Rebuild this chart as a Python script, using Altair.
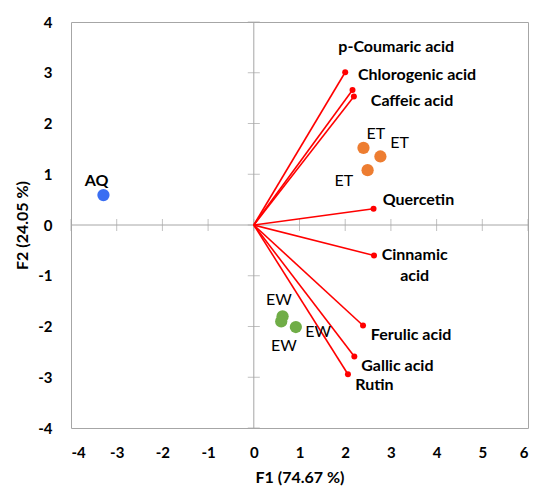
import altair as alt
import pandas as pd

# Variables (loading vectors)
var_names = ["p-Coumaric acid", "Chlorogenic acid", "Caffeic acid", "Quercetin",
             "Cinnamic acid", "Ferulic acid", "Gallic acid", "Rutin"]
var_f1 = [2.00, 2.16, 2.19, 2.62, 2.63, 2.39, 2.20, 2.06]
var_f2 = [3.01, 2.66, 2.53, 0.32, -0.60, -1.98, -2.59, -2.94]
var_text = ["p-Coumaric acid", "Chlorogenic acid", "Caffeic acid", "Quercetin",
            "Cinnamic\nacid", "Ferulic acid", "Gallic acid", "Rutin"]
var_label_f1 = [1.85, 2.28, 2.56, 2.82, 3.52, 2.56, 2.35, 2.22]
var_label_f2 = [3.51, 2.96, 2.44, 0.49, -0.59, -2.17, -2.78, -3.15]

# Observations
obs_names = ["ET", "ET", "ET", "EW", "EW", "EW", "AQ"]
obs_f1 = [2.40, 2.77, 2.49, 0.63, 0.60, 0.92, -3.29]
obs_f2 = [1.52, 1.35, 1.08, -1.80, -1.90, -2.01, 0.59]
obs_label_f1 = [2.67, 3.19, 1.97, 0.55, 1.41, 0.66, -3.44]
obs_label_f2 = [1.79, 1.62, 0.87, -1.48, -2.11, -2.38, 0.87]

group_names = ["ET", "EW", "AQ"]
group_colors = ["#ED7D31", "#70AD47", "#3A6EF2"]

x_ticks = [-4, -3, -2, -1, 0, 1, 2, 3, 4, 5, 6]
y_ticks = [-4, -3, -2, -1, 0, 1, 2, 3, 4]

FONT = "Lato"
GREY = "#A6A6A6"

vars_df = pd.DataFrame({"name": var_names, "f1": var_f1, "f2": var_f2,
                        "text": var_text, "lx": var_label_f1, "ly": var_label_f2})
obs_df = pd.DataFrame({"name": obs_names, "f1": obs_f1, "f2": obs_f2,
                       "lx": obs_label_f1, "ly": obs_label_f2})
xt_df = pd.DataFrame({"v": x_ticks})
yt_df = pd.DataFrame({"v": y_ticks})

xscale = alt.Scale(domain=[-4, 6], nice=False, zero=False)
yscale = alt.Scale(domain=[-4, 4], nice=False, zero=False)

xaxis = alt.Axis(values=x_ticks, grid=False, domain=False, ticks=False, tickSize=0,
                 labelExpr="'' + datum.value",
                 labelFont=FONT, labelFontWeight="bold", labelFontSize=15, labelColor="#000000",
                 labelPadding=17, title="F1 (74.67 %)", titleFont=FONT, titleFontSize=16,
                 titleFontWeight="bold", titleColor="#000000", titlePadding=9)
yaxis = alt.Axis(values=y_ticks, grid=False, domain=False, ticks=False, tickSize=0,
                 labelExpr="'' + datum.value",
                 labelFont=FONT, labelFontWeight="bold", labelFontSize=15, labelColor="#000000",
                 labelPadding=19, title="F2 (24.05 %)", titleFont=FONT, titleFontSize=16,
                 titleFontWeight="bold", titleColor="#000000", titlePadding=7)

# zero lines
zero_x = alt.Chart(pd.DataFrame({"v": [0]})).mark_rule(color=GREY, strokeWidth=1).encode(
    x=alt.X("v:Q", scale=xscale, axis=xaxis))
zero_y = alt.Chart(pd.DataFrame({"v": [0]})).mark_rule(color=GREY, strokeWidth=1).encode(
    y=alt.Y("v:Q", scale=yscale, axis=yaxis))

xt = alt.Chart(xt_df).mark_tick(orient="vertical", size=12, thickness=1, color=GREY).transform_calculate(
    z="0").encode(x=alt.X("v:Q", scale=xscale), y=alt.Y("z:Q", scale=yscale))
yt = alt.Chart(yt_df).mark_tick(orient="horizontal", size=12, thickness=1, color=GREY).transform_calculate(
    z="0").encode(y=alt.Y("v:Q", scale=yscale), x=alt.X("z:Q", scale=xscale))

vec_base = alt.Chart(vars_df)
vectors = vec_base.mark_rule(color="#FF0000", strokeWidth=1.6).transform_calculate(
    ox="0", oy="0").encode(
    x=alt.X("ox:Q", scale=xscale), y=alt.Y("oy:Q", scale=yscale), x2="f1:Q", y2="f2:Q")
vec_pts = vec_base.mark_circle(color="#FF0000", size=36, opacity=1).encode(
    x=alt.X("f1:Q", scale=xscale), y=alt.Y("f2:Q", scale=yscale))
vec_labels = vec_base.mark_text(align="left", baseline="middle", font=FONT, fontWeight="bold",
                                fontSize=16, color="#000000").transform_filter(
    "datum.name != 'Cinnamic acid'").encode(
    x=alt.X("lx:Q", scale=xscale), y=alt.Y("ly:Q", scale=yscale), text="text:N")
vec_labels2 = vec_base.mark_text(align="center", baseline="middle", font=FONT, fontWeight="bold",
                                 fontSize=16, color="#000000", lineBreak="\n", lineHeight=21).transform_filter(
    "datum.name == 'Cinnamic acid'").encode(
    x=alt.X("lx:Q", scale=xscale), y=alt.Y("ly:Q", scale=yscale), text="text:N")

obs_base = alt.Chart(obs_df)
obs_pts = obs_base.mark_circle(size=150, opacity=1).encode(
    x=alt.X("f1:Q", scale=xscale), y=alt.Y("f2:Q", scale=yscale),
    color=alt.Color("name:N", scale=alt.Scale(domain=group_names, range=group_colors), legend=None))
obs_labels = obs_base.mark_text(align="center", baseline="middle", font=FONT, fontSize=16,
                                color="#000000").transform_filter("datum.name != 'AQ'").encode(
    x=alt.X("lx:Q", scale=xscale), y=alt.Y("ly:Q", scale=yscale), text="name:N")
aq_label = obs_base.mark_text(align="center", baseline="middle", font=FONT, fontSize=16,
                              fontWeight="bold", color="#000000").transform_filter("datum.name == 'AQ'").encode(
    x=alt.X("lx:Q", scale=xscale), y=alt.Y("ly:Q", scale=yscale), text="name:N")

chart = alt.layer(zero_x, zero_y, xt, yt, vectors, vec_pts, vec_labels, vec_labels2,
                  obs_pts, obs_labels, aq_label).properties(
    width=457, height=406,
    autosize=alt.AutoSizeParams(type="none"),
    padding={"left": 63, "top": 14, "right": 5, "bottom": 62},
    background="#FFFFFF",
).configure_view(stroke=GREY, strokeWidth=1)

chart.save("out.html", embed_options={"renderer": "svg", "actions": False})
